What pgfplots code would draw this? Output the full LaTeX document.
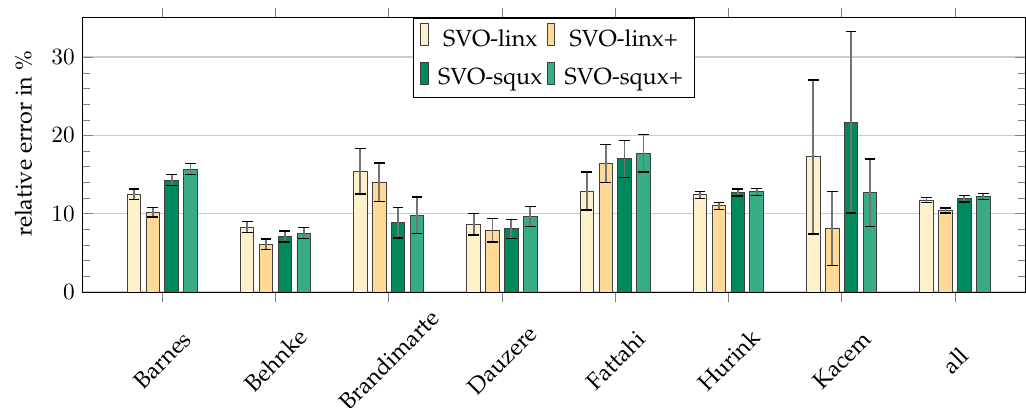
\documentclass[border=0pt]{standalone}
\usepackage[T1]{fontenc}
\usepackage{palatino}
\usepackage{pgfplots}
\pgfplotsset{compat=1.18}
\definecolor{cA}{RGB}{255,240,204}
\definecolor{cB}{RGB}{255,218,150}
\definecolor{cC}{RGB}{0,137,94}
\definecolor{cD}{RGB}{55,172,135}
\begin{document}
\begin{tikzpicture}
\begin{axis}[
  ybar,
  scale only axis,
  width=404.3pt, height=117.6pt,
  ymin=0, ymax=35, xmin=-0.7, xmax=7.62,
  xtick={0,...,7},
  xticklabels={Barnes,Behnke,Brandimarte,Dauzere,Fattahi,Hurink,Kacem,all},
  x tick label style={yshift=-25pt, rotate=45, anchor=center},
  xtick align=outside,
  ytick={0,10,20,30},
  minor y tick num=4,
  ymajorgrids,
  major grid style={black!20, line width=0.6pt},
  ylabel={relative error in \%},
  ylabel style={at={(axis description cs:-0.0633,0.54)}, anchor=center},
  bar width=0.12,
  legend columns=2,
  legend image code/.code={\draw[#1] (0pt,-0.25em) rectangle (3.2pt,0.7em);},
  legend style={at={(0.5,1)}, anchor=north, draw=black, font=\normalsize,
    row sep=3pt, /tikz/every odd column/.append style={column sep=2pt}},
  error bars/error bar style={black!55, line width=0.8pt},
  error bars/error mark options={black, line width=0.6pt, mark size=2.3pt, rotate=90},
]
\addplot+[bar shift=-0.25, fill=cA, draw=black!75,
  error bars/.cd, y dir=both, y explicit] coordinates {
  (0,12.5) +- (0,0.65)
  (1,8.3) +- (0,0.7)
  (2,15.4) +- (0,2.9)
  (3,8.65) +- (0,1.35)
  (4,12.9) +- (0,2.45)
  (5,12.4) +- (0,0.45)
  (6,17.25) +- (0,9.85)
  (7,11.75) +- (0,0.32)
};
\addplot+[bar shift=-0.083, fill=cB, draw=black!75,
  error bars/.cd, y dir=both, y explicit] coordinates {
  (0,10.2) +- (0,0.6)
  (1,6.1) +- (0,0.65)
  (2,14.0) +- (0,2.45)
  (3,7.9) +- (0,1.5)
  (4,16.4) +- (0,2.45)
  (5,11.0) +- (0,0.45)
  (6,8.1) +- (0,4.75)
  (7,10.4) +- (0,0.33)
};
\addplot+[bar shift=0.083, fill=cC, draw=black!75,
  error bars/.cd, y dir=both, y explicit] coordinates {
  (0,14.3) +- (0,0.7)
  (1,7.1) +- (0,0.7)
  (2,8.85) +- (0,1.95)
  (3,8.05) +- (0,1.2)
  (4,17.0) +- (0,2.35)
  (5,12.7) +- (0,0.45)
  (6,21.7) +- (0,11.6)
  (7,11.9) +- (0,0.4)
};
\addplot+[bar shift=0.25, fill=cD, draw=black!75,
  error bars/.cd, y dir=both, y explicit] coordinates {
  (0,15.7) +- (0,0.7)
  (1,7.5) +- (0,0.7)
  (2,9.8) +- (0,2.35)
  (3,9.65) +- (0,1.25)
  (4,17.7) +- (0,2.4)
  (5,12.8) +- (0,0.45)
  (6,12.7) +- (0,4.3)
  (7,12.2) +- (0,0.4)
};
\legend{SVO-linx,SVO-linx+,SVO-squx,SVO-squx+}
\end{axis}
\pgfresetboundingbox
\path ([xshift=-35.6pt, yshift=7.7pt]current axis.north west) rectangle ([xshift=0.4pt, yshift=-49.4pt]current axis.south east);
\end{tikzpicture}
\end{document}
